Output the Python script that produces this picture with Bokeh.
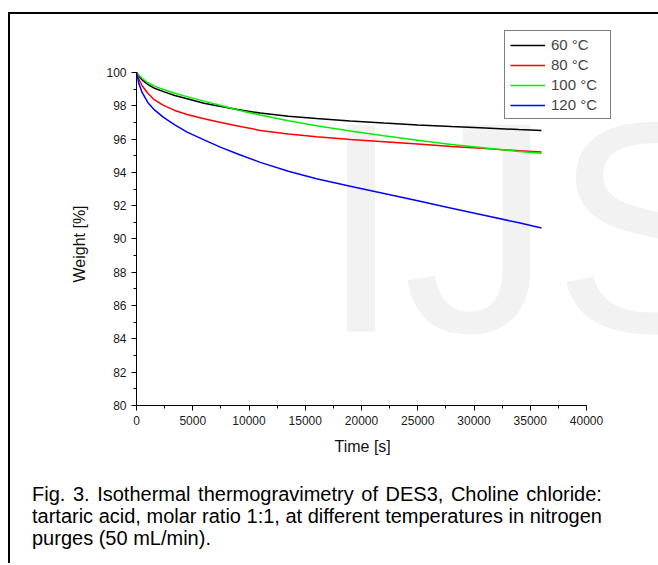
from bokeh.plotting import figure
from bokeh.models import (Range1d, SingleIntervalTicker, Legend, LegendItem, Label, Div, Title)
from bokeh.layouts import column
from bokeh.embed import file_html
from bokeh.resources import INLINE

# ---- data ----
time_s = [0, 200, 500, 1000, 1600, 2400, 3400, 4500, 6000, 7500, 9000, 11000,
          13500, 16000, 19000, 22000, 25000, 28000, 31000, 34000, 36000]
w_60 = [100, 99.78, 99.55, 99.28, 99.05, 98.85, 98.62, 98.42, 98.15, 97.95, 97.77,
        97.56, 97.37, 97.23, 97.08, 96.96, 96.85, 96.75, 96.66, 96.57, 96.52]
w_80 = [100, 99.6, 99.2, 98.75, 98.35, 98.02, 97.72, 97.48, 97.22, 97.0, 96.78,
        96.52, 96.3, 96.14, 95.98, 95.84, 95.7, 95.56, 95.43, 95.3, 95.22]
w_100 = [100, 99.85, 99.65, 99.38, 99.18, 98.98, 98.75, 98.55, 98.28, 98.02, 97.75,
         97.44, 97.1, 96.8, 96.48, 96.2, 95.93, 95.68, 95.46, 95.26, 95.15]
w_120 = [100, 99.35, 98.8, 98.2, 97.75, 97.3, 96.85, 96.42, 95.95, 95.5, 95.1,
         94.6, 94.07, 93.62, 93.17, 92.73, 92.29, 91.85, 91.41, 90.97, 90.66]
series_labels = ["60 °C", "80 °C", "100 °C", "120 °C"]
series_colors = ["#000000", "#ff0000", "#00ee00", "#0000ff"]
x_title = "Time [s]"
y_title = "Weight [%]"
caption_lines = ["Fig. 3. Isothermal thermogravimetry of DES3, Choline chloride:",
                 "tartaric acid, molar ratio 1:1, at different temperatures in nitrogen",
                 "purges (50 mL/min)."]

FONT = "Liberation Sans"

p = figure(width=648, height=449, output_backend="svg", toolbar_location=None,
           x_range=Range1d(0, 46400), y_range=Range1d(80, 102.52),
           min_border_left=126, min_border_top=16, min_border_right=0,
           min_border_bottom=58)
p.outline_line_color = None
p.grid.visible = False
p.background_fill_color = "white"
p.border_fill_color = "white"

# watermark
wm = Label(x=16250, y=80.6, text="IJS", text_font=FONT, text_font_size="300px",
           text_color="#f2f2f2", level="underlay")
p.add_layout(wm)

renderers = []
for ys, c in zip([w_60, w_80, w_100, w_120], series_colors):
    r = p.line(time_s, ys, line_color=c, line_width=1.5)
    renderers.append(r)

xa = p.xaxis[0]
xa.ticker = SingleIntervalTicker(interval=5000, num_minor_ticks=2)
xa.bounds = (0, 40000)
ya = p.yaxis[0]
ya.ticker = SingleIntervalTicker(interval=2, num_minor_ticks=2)
ya.bounds = (80, 100)
for ax in (xa, ya):
    ax.major_tick_in = 0
    ax.major_tick_out = 5
    ax.minor_tick_in = 0
    ax.minor_tick_out = 3
    ax.axis_line_color = "black"
    ax.major_tick_line_color = "black"
    ax.minor_tick_line_color = "black"
    ax.major_label_text_font = FONT
    ax.major_label_text_font_size = "12px"
    ax.major_label_text_color = "#1a1a1a"
    ax.major_label_standoff = 5

# axis titles, positioned along the axis extent
tx = Title(text=x_title, align="left", offset=198, standoff=16, text_font=FONT,
           text_font_size="16px", text_font_style="normal", text_color="#111111")
p.add_layout(tx, "below")
ty = Title(text=y_title, align="left", offset=123, standoff=32, text_font=FONT,
           text_font_size="16px", text_font_style="normal", text_color="#111111")
p.add_layout(ty, "left")

legend = Legend(items=[LegendItem(label=l, renderers=[r]) for l, r in zip(series_labels, renderers)],
                location=(368, 286), label_text_font=FONT, label_text_font_size="15px",
                glyph_width=35, glyph_height=16, label_height=16, label_width=54,
                label_standoff=6, spacing=3, padding=5, margin=0,
                border_line_color="black", border_line_width=1, background_fill_alpha=1)
p.add_layout(legend, "center")

cap_html = "".join(
    '<div style="text-align:justify;text-align-last:%s">%s</div>'
    % ("left" if i == len(caption_lines) - 1 else "justify", line)
    for i, line in enumerate(caption_lines))
cap = Div(text=cap_html, width=606, height=80, margin=(20, 0, 0, 22),
          styles={"font-family": "Liberation Sans, Arial, sans-serif", "font-size": "20px",
                  "line-height": "22px", "color": "black"})

layout = column(p, cap, margin=(12, 0, 0, 8),
                styles={"border-left": "2px solid black", "border-top": "2px solid black"})

open("out.html", "w").write(file_html(layout, INLINE))
